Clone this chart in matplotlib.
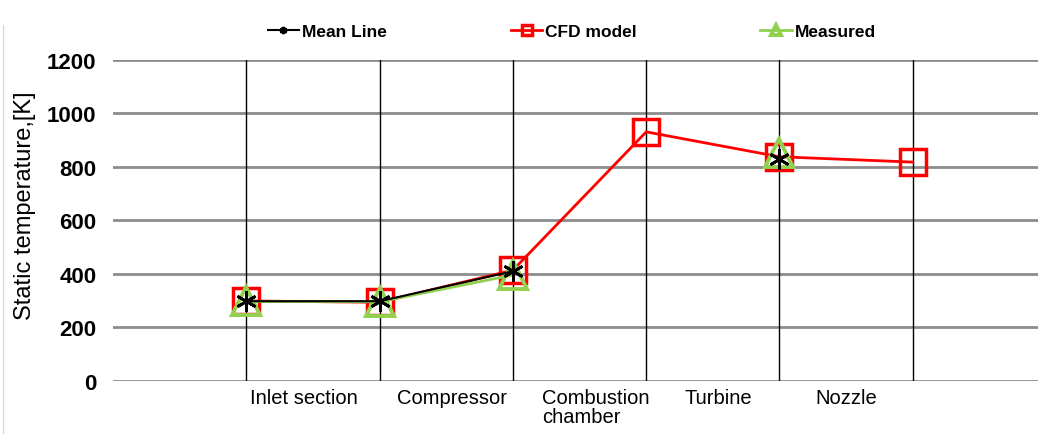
import numpy as np
import matplotlib.pyplot as plt

plt.rcParams['font.family'] = ['Liberation Sans', 'DejaVu Sans']

# stations along the engine (x positions of the vertical grid lines)
stations = [1, 2, 3, 4, 5, 6]
mean_line = [298, 298, 410, np.nan, 828, np.nan]
cfd_model = [299, 294, 414, 931, 838, 818]
measured = [297, 296, 396, np.nan, 852, np.nan]

section_names = ['Inlet section', 'Compressor', 'Combustion\nchamber', 'Turbine', 'Nozzle']
section_x = [1.03, 2.13, 3.22, 4.29, 5.27]

yticks = [0, 200, 400, 600, 800, 1000, 1200]

fig = plt.figure(figsize=(10.38, 4.35), dpi=100)
ax = fig.add_axes([0.109, 0.122, 0.891, 0.738])

red = '#FF0000'
green = '#92D050'

ax.plot(stations, cfd_model, color=red, lw=2, marker='s', ms=19,
        mfc='none', mec=red, mew=2.5, zorder=3, label='CFD model')
ax.plot(stations, measured, color=green, lw=2, marker='^', ms=20,
        mfc='none', mec=green, mew=2.8, zorder=4, label='Measured')
ax.plot(stations, mean_line, color='black', lw=1.5, marker=(6, 2, 0), ms=15,
        mec='black', mew=2, zorder=5, label='Mean Line')

ax.set_xlim(0, 6.94)
ax.set_ylim(0, 1200)
ax.set_yticks(yticks)
ax.set_yticklabels([str(t) for t in yticks], fontsize=16, fontweight='bold')
ax.set_xticks([])
ax.tick_params(axis='y', length=0, pad=12)

ax.grid(axis='y', color='#8c8c8c', lw=2)
for xs in stations:
    ax.axvline(xs, color='black', lw=1, zorder=1)
ax.set_axisbelow(True)
for s in ax.spines.values():
    s.set_visible(False)

ax.set_ylabel('Static temperature,[K]', fontsize=17)
ax.yaxis.set_label_coords(-0.083, 0.55)

for name, xs in zip(section_names, section_x):
    ax.text(xs, -25, name, ha='left', va='top', fontsize=14.5,
            linespacing=1.05)

handles, labels = ax.get_legend_handles_labels()
order = [2, 0, 1]
leg = fig.legend([handles[i] for i in order], [labels[i] for i in order],
                 loc='center', bbox_to_anchor=(0.551, 0.926), ncol=3,
                 frameon=False, markerscale=0.35, handlelength=1.84,
                 handletextpad=0.17, columnspacing=7.1,
                 prop={'weight': 'bold', 'size': 12.5})

# light outline of the chart area
fig.add_artist(plt.Line2D([0.003, 0.003], [0.0, 0.94], color='#d9d9d9', lw=1,
                          transform=fig.transFigure))

fig.savefig('out.png', dpi=100)
